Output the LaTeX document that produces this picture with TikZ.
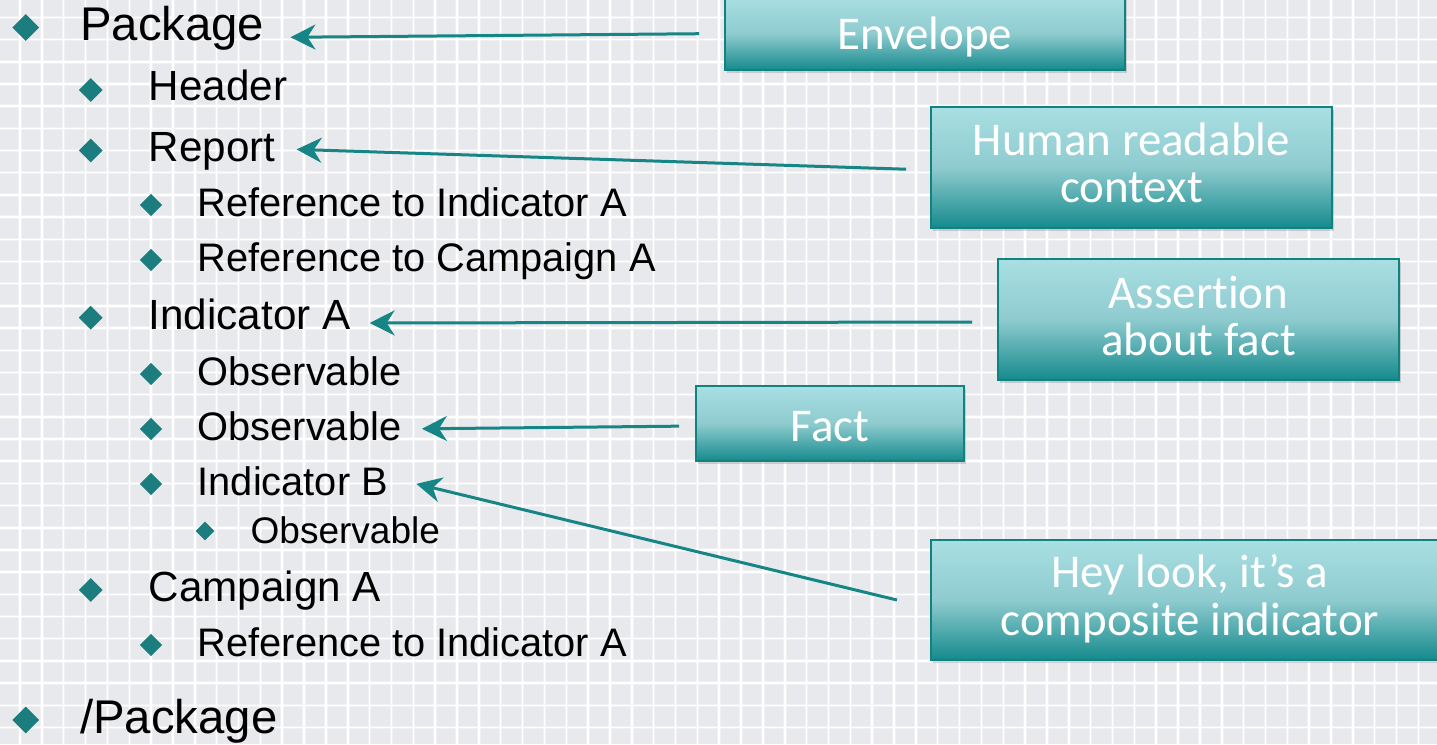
\documentclass[tikz,border=0pt]{standalone}
\usepackage{fontspec}
\setmainfont{Liberation Sans}
\newfontfamily\boxfont[Ligatures=NoCommon]{Carlito}
\usetikzlibrary{arrows.meta,shapes.geometric,shadows}
\definecolor{bgc}{HTML}{E8E9ED}
\definecolor{bulc}{HTML}{1B7D7D}
\definecolor{arrc}{HTML}{168585}
\definecolor{boxtop}{HTML}{A9DFE3}
\definecolor{boxmid}{HTML}{8ECBCF}
\definecolor{boxbot}{HTML}{158A8C}
\definecolor{boxedge}{HTML}{0F8282}
\begin{document}
\begin{tikzpicture}[x=1pt,y=-1pt,
  lvone/.style={anchor=base west, inner sep=0pt, font=\fontsize{47.3}{50}\selectfont},
  lvtwo/.style={anchor=base west, inner sep=0pt, font=\fontsize{42.2}{44}\selectfont},
  lvthree/.style={anchor=base west, inner sep=0pt, font=\fontsize{39.8}{42}\selectfont},
  lvfour/.style={anchor=base west, inner sep=0pt, font=\fontsize{37}{40}\selectfont},
  bul/.style={diamond, fill=bulc, inner sep=0pt, minimum width=#1, minimum height=#1},
  box/.style={draw=boxedge, line width=2pt, top color=boxtop, bottom color=boxbot, middle color=boxmid,
    inner sep=0pt,
    drop shadow={shadow xshift=2pt, shadow yshift=-3pt, opacity=0.25, fill=black!60}},
  boxtxt/.style={text=white, font=\boxfont\fontsize{47}{47.5}\selectfont, align=center, inner sep=0pt},
  arr/.style={draw=arrc, line width=3pt, -{Stealth[length=25pt,width=25pt,inset=8pt]}},
  gridsoft/.style={draw=white, line width=3.5pt, opacity=0.35},
  gridw/.style={draw=white, line width=1.5pt}
]
\useasboundingbox (0,0) rectangle (1437,744);
\clip (0,0) rectangle (1437,744);
\fill[bgc] (0,0) rectangle (1437,744);
\foreach \i in {-1,...,66} {
  \draw[gridsoft] ({20+21.85*\i},0) -- ({20+21.85*\i},744);
  \draw[gridw] ({20+21.85*\i},0) -- ({20+21.85*\i},744);
}
\foreach \j in {-1,...,34} {
  \draw[gridsoft] (0,{17.4+22.19*\j}) -- (1437,{17.4+22.19*\j});
  \draw[gridw] (0,{17.4+22.19*\j}) -- (1437,{17.4+22.19*\j});
}

% bullets
\node[bul=27pt] (b1) at (25.7,27.5) {};
\node[bul=24pt] (b2) at (90.7,90) {};
\node[bul=24pt] (b3) at (90.7,150.5) {};
\node[bul=22.5pt] (b4) at (151,205) {};
\node[bul=22.5pt] (b5) at (151,260) {};
\node[bul=24pt] (b6) at (90.7,317.7) {};
\node[bul=22.5pt] (b7) at (151,374) {};
\node[bul=22.5pt] (b8) at (151,429) {};
\node[bul=22.5pt] (b9) at (151,484) {};
\node[bul=19pt] (b10) at (205,531) {};
\node[bul=24pt] (b11) at (90.7,590) {};
\node[bul=22.5pt] (b12) at (151,645) {};
\node[bul=27pt] (b13) at (25.7,720) {};

% outline text
\node[lvone] (pkg) at (80,40.5) {Package};
\node[lvtwo] (hdr) at (148.5,100.5) {Header};
\node[lvtwo] (rep) at (148.5,161) {Report};
\node[lvthree] (rfa) at (197.5,216.5) {Reference to Indicator A};
\node[lvthree] (rfc) at (197.5,271.5) {Reference to Campaign A};
\node[lvtwo] (inda) at (148.5,329) {Indicator A};
\node[lvthree] (obsa) at (197.5,385) {Observable};
\node[lvthree] (obsb) at (197.5,440) {Observable};
\node[lvthree] (indb) at (197.5,495) {Indicator B};
\node[lvfour] (obsc) at (250.5,543) {Observable};
\node[lvtwo] (cmpa) at (148.5,601) {Campaign A};
\node[lvthree] (rfb) at (197.5,656.5) {Reference to Indicator A};
\node[lvone] (epkg) at (80,733) {/Package};

% boxes
\node[box, minimum width=400pt, minimum height=73pt] (env) at (925,33.5) {};
\node[boxtxt] (envt) at (925,36.5) {Envelope};
\node[box, minimum width=401pt, minimum height=121pt] (hum) at (1131.5,167.5) {};
\node[boxtxt] (humt) at (1131.5,163) {Human readable\\context};
\node[box, minimum width=401pt, minimum height=121pt] (ass) at (1198.5,319.5) {};
\node[boxtxt] (asst) at (1198.5,316) {Assertion\\about fact};
\node[box, minimum width=268pt, minimum height=75pt] (fact) at (830,423.5) {};
\node[boxtxt] (factt) at (830,426.5) {Fact};
\node[box, minimum width=518pt, minimum height=120pt] (hey) at (1190,600) {};
\node[boxtxt] (heyt) at (1190,598.5) {Hey look, it’s a\\composite indicator};

% connectors
\draw[arr, shorten <=25pt, shorten >=26pt] (env.west) -- ([yshift=3pt]pkg.base east);
\draw[arr, shorten <=24pt, shorten >=21pt] ([yshift=-2.5pt]hum.west) -- ([yshift=12.3pt]rep.base east);
\draw[arr, shorten <=25pt, shorten >=19pt] ([yshift=-2.5pt]ass.west) -- ([yshift=6pt]inda.base east);
\draw[arr, shorten <=16pt, shorten >=20.5pt] ([yshift=-2.5pt]fact.west) -- ([yshift=11pt]obsb.base east);
\draw[arr, shorten <=34pt, shorten >=29pt] ([yshift=-8pt]hey.west) -- ([yshift=18pt]indb.base east);
\end{tikzpicture}
\end{document}
